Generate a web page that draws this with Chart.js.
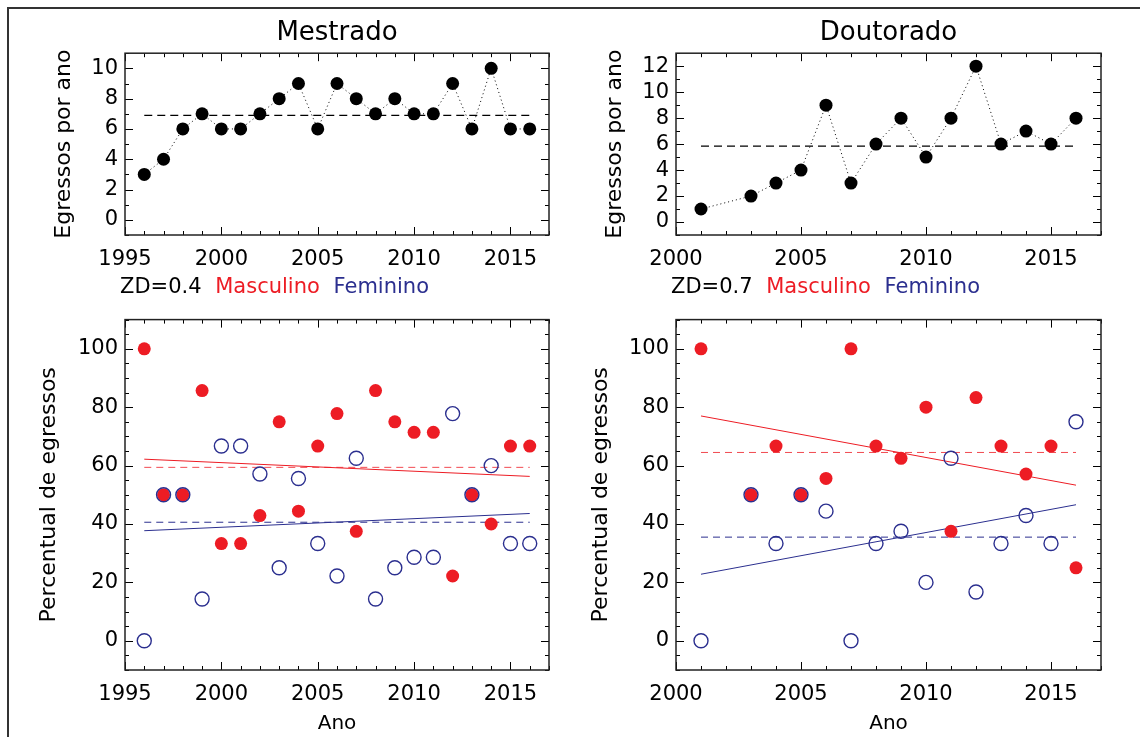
<!DOCTYPE html>
<html>
<head>
<meta charset="utf-8">
<script src="https://cdn.jsdelivr.net/npm/chart.js@4.4.0/dist/chart.umd.min.js"></script>
<style>
  body { margin: 0; width: 1140px; height: 737px; overflow: hidden; background: #fff; position: relative; font-family: 'DejaVu Sans'; }
  canvas { position: absolute; }
  .moldura { position: absolute; left: 7px; top: 7px; width: 1200px; height: 800px; border-left: 2px solid #333; border-top: 2px solid #333; }
  .zd { position: absolute; font-size: 21px; line-height: 24px; word-spacing: 7px; white-space: nowrap; color: #000; }
  .masc { color: #ED1C24; }
  .fem { color: #2B2F8F; }
</style>
</head>
<body>
<div class="moldura"></div>
<canvas id="mestTotal" width="570" height="275" style="left:0;top:0"></canvas>
<canvas id="doutTotal" width="570" height="275" style="left:570px;top:0"></canvas>
<div class="zd" style="left:120px;top:274px">ZD=0.4 <span class="masc">Masculino</span> <span class="fem">Feminino</span></div>
<div class="zd" style="left:671px;top:274px">ZD=0.7 <span class="masc">Masculino</span> <span class="fem">Feminino</span></div>
<canvas id="mestSexo" width="570" height="437" style="left:0;top:300px"></canvas>
<canvas id="doutSexo" width="570" height="437" style="left:570px;top:300px"></canvas>
<script>
// Mestrado
const mestAnos = [1996, 1997, 1998, 1999, 2000, 2001, 2002, 2003, 2004, 2005, 2006, 2007, 2008, 2009, 2010, 2011, 2012, 2013, 2014, 2015, 2016];
const mestEgressos = [3, 4, 6, 7, 6, 6, 7, 8, 9, 6, 9, 8, 7, 8, 7, 7, 9, 6, 10, 6, 6];
const mestMedia = 6.9;
const mestMasc = [100, 50, 50, 85.7, 33.3, 33.3, 42.9, 75, 44.4, 66.7, 77.8, 37.5, 85.7, 75, 71.4, 71.4, 22.2, 50, 40, 66.7, 66.7];
const mestFem = [0, 50, 50, 14.3, 66.7, 66.7, 57.1, 25, 55.6, 33.3, 22.2, 62.5, 14.3, 25, 28.6, 28.6, 77.8, 50, 60, 33.3, 33.3];
const mestMediaMasc = 59.4;
const mestMediaFem = 40.6;
const mestRetaMasc = [62.2, 56.3]; // em 1996 e 2016
const mestRetaFem = [37.7, 43.6];

// Doutorado
const doutAnos = [2001, 2003, 2004, 2005, 2006, 2007, 2008, 2009, 2010, 2011, 2012, 2013, 2014, 2015, 2016];
const doutEgressos = [1, 2, 3, 4, 9, 3, 6, 8, 5, 8, 12, 6, 7, 6, 8];
const doutMedia = 5.85;
const doutMasc = [100, 50, 66.7, 50, 55.6, 100, 66.7, 62.5, 80, 37.5, 83.3, 66.7, 57.1, 66.7, 25];
const doutFem = [0, 50, 33.3, 50, 44.4, 0, 33.3, 37.5, 20, 62.5, 16.7, 33.3, 42.9, 33.3, 75];
const doutMediaMasc = 64.5;
const doutMediaFem = 35.5;
const doutRetaMasc = [77.0, 53.3]; // em 2001 e 2016
const doutRetaFem = [22.8, 46.6];

// ticks
const mestTicksX = [1995, 2000, 2005, 2010, 2015];
const doutTicksX = [2000, 2005, 2010, 2015];
const mestTicksTotal = [0, 2, 4, 6, 8, 10];
const doutTicksTotal = [0, 2, 4, 6, 8, 10, 12];
const ticksPerc = [0, 20, 40, 60, 80, 100];

const VERMELHO = '#ED1C24';
const AZUL = '#2B2F8F';

Chart.defaults.font.family = 'DejaVu Sans';
Chart.defaults.color = '#000';

const pts = (xs, ys) => xs.map((x, i) => ({ x: x, y: ys[i] }));
const seg = (x0, x1, ys) => [{ x: x0, y: ys[0] }, { x: x1, y: ys[1] }];

// marcas para dentro nos quatro lados + moldura
const ticksIn = {
  id: 'ticksIn',
  afterDraw(chart, args, o) {
    const { ctx, chartArea: a, scales: { x, y } } = chart;
    ctx.save();
    ctx.strokeStyle = '#000';
    ctx.lineWidth = 1;
    ctx.beginPath();
    for (let v = Math.ceil(x.min / o.xMinor) * o.xMinor; v <= x.max; v += o.xMinor) {
      const px = Math.round(x.getPixelForValue(v)) + 0.5;
      const len = v % o.xMajor === 0 ? 8 : 4;
      ctx.moveTo(px, a.bottom); ctx.lineTo(px, a.bottom - len);
      ctx.moveTo(px, a.top); ctx.lineTo(px, a.top + len);
    }
    for (let v = Math.ceil(y.min / o.yMinor) * o.yMinor; v <= y.max; v += o.yMinor) {
      const py = Math.round(y.getPixelForValue(v)) + 0.5;
      const len = v % o.yMajor === 0 ? 8 : 4;
      ctx.moveTo(a.left, py); ctx.lineTo(a.left + len, py);
      ctx.moveTo(a.right, py); ctx.lineTo(a.right - len, py);
    }
    ctx.stroke();
    ctx.strokeStyle = '#222';
    ctx.lineWidth = 1.5;
    ctx.strokeRect(a.left, a.top, a.right - a.left, a.bottom - a.top);
    ctx.restore();
  }
};

function eixoX(min, max, lista, altura, titulo) {
  return {
    type: 'linear', min: min, max: max,
    grid: { display: false, drawTicks: false },
    border: { display: false },
    afterBuildTicks: s => { s.ticks = lista.map(v => ({ value: v })); },
    afterFit: s => { s.height = altura; },
    ticks: { font: { size: 21 }, padding: 12, maxRotation: 0, autoSkip: false, callback: v => String(v) },
    title: titulo ? { display: true, text: titulo, font: { size: 20 }, padding: { top: 0, bottom: 1 } } : { display: false }
  };
}

function eixoY(min, max, lista, largura, titulo, padTitulo) {
  return {
    type: 'linear', min: min, max: max,
    grid: { display: false, drawTicks: false },
    border: { display: false },
    afterBuildTicks: s => { s.ticks = lista.map(v => ({ value: v })); },
    afterFit: s => { s.width = largura; },
    ticks: { font: { size: 21 }, padding: 7, autoSkip: false, callback: v => String(v) },
    title: { display: true, text: titulo, font: { size: 22 }, padding: { top: padTitulo, bottom: 0 } }
  };
}

function graficoTotal(id, titulo, anos, valores, media, xmin, xmax, ticksX, ymax, ticksY, largY, padTit, padDir) {
  new Chart(document.getElementById(id), {
    type: 'scatter',
    data: {
      datasets: [
        {
          data: pts(anos, valores), showLine: true,
          borderColor: '#000', borderWidth: 1, borderDash: [1, 3],
          pointRadius: 6.5, pointBackgroundColor: '#000', pointBorderWidth: 0
        },
        {
          data: seg(anos[0], anos[anos.length - 1], [media, media]), showLine: true,
          borderColor: '#000', borderWidth: 1.2, borderDash: [8, 5], pointRadius: 0
        }
      ]
    },
    options: {
      responsive: false, animation: false,
      layout: { padding: { left: 0, top: 0, right: padDir, bottom: 0 } },
      plugins: {
        legend: { display: false }, tooltip: { enabled: false },
        title: { display: true, text: titulo, fullSize: false, font: { size: 26, weight: 'normal' }, padding: { top: 18, bottom: 4 } },
        ticksIn: { xMajor: 5, xMinor: 1, yMajor: 2, yMinor: 1 }
      },
      scales: {
        x: eixoX(xmin, xmax, ticksX, 40, null),
        y: eixoY(-1, ymax, ticksY, largY, 'Egressos por ano', padTit)
      }
    },
    plugins: [ticksIn]
  });
}

function graficoSexo(id, anos, masc, fem, mMasc, mFem, rMasc, rFem, xmin, xmax, ticksX, largY, padTit, padDir) {
  const a0 = anos[0], a1 = anos[anos.length - 1];
  new Chart(document.getElementById(id), {
    type: 'scatter',
    data: {
      datasets: [
        { data: pts(anos, fem), pointRadius: 7, pointBackgroundColor: 'rgba(0,0,0,0)', pointBorderColor: AZUL, pointBorderWidth: 1.4 },
        { data: pts(anos, masc), pointRadius: 6.5, pointBackgroundColor: VERMELHO, pointBorderWidth: 0 },
        { data: seg(a0, a1, rMasc), showLine: true, borderColor: VERMELHO, borderWidth: 1, pointRadius: 0 },
        { data: seg(a0, a1, rFem), showLine: true, borderColor: AZUL, borderWidth: 1, pointRadius: 0 },
        { data: seg(a0, a1, [mMasc, mMasc]), showLine: true, borderColor: 'rgba(237,28,36,0.8)', borderWidth: 1, borderDash: [7, 5], pointRadius: 0 },
        { data: seg(a0, a1, [mFem, mFem]), showLine: true, borderColor: AZUL, borderWidth: 1, borderDash: [7, 5], pointRadius: 0 }
      ]
    },
    options: {
      responsive: false, animation: false,
      layout: { padding: { left: 0, top: 7, right: padDir, bottom: 0 } },
      plugins: {
        legend: { display: false }, tooltip: { enabled: false },
        ticksIn: { xMajor: 5, xMinor: 1, yMajor: 20, yMinor: 5 }
      },
      scales: {
        x: eixoX(xmin, xmax, ticksX, 67, 'Ano'),
        y: eixoY(-10, 110, ticksPerc, largY, 'Percentual de egressos', padTit)
      }
    },
    plugins: [ticksIn]
  });
}

graficoTotal('mestTotal', 'Mestrado', mestAnos, mestEgressos, mestMedia, 1995, 2017, mestTicksX, 11, mestTicksTotal, 125, 51, 21);
graficoTotal('doutTotal', 'Doutorado', doutAnos, doutEgressos, doutMedia, 2000, 2017, doutTicksX, 13, doutTicksTotal, 106, 32, 39);
graficoSexo('mestSexo', mestAnos, mestMasc, mestFem, mestMediaMasc, mestMediaFem, mestRetaMasc, mestRetaFem, 1995, 2017, mestTicksX, 125, 36, 21);
graficoSexo('doutSexo', doutAnos, doutMasc, doutFem, doutMediaMasc, doutMediaFem, doutRetaMasc, doutRetaFem, 2000, 2017, doutTicksX, 106, 18, 39);
</script>
</body>
</html>
